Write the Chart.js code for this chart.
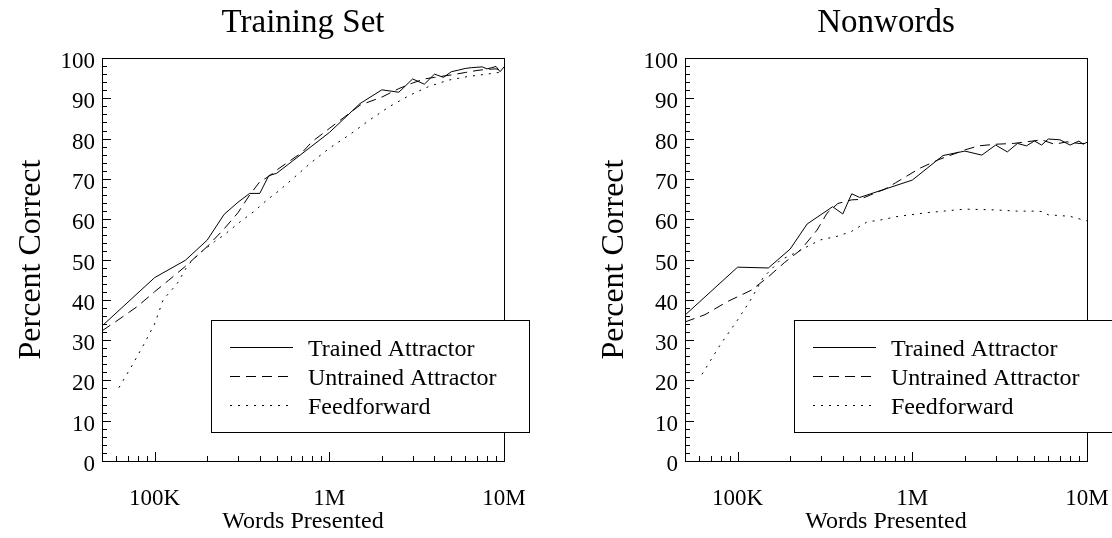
<!DOCTYPE html>
<html>
<head>
<meta charset="utf-8">
<script src="https://cdn.jsdelivr.net/npm/chart.js@4.4.1/dist/chart.umd.min.js"></script>
<style>
  html, body { margin: 0; padding: 0; background: #fff; }
  #wrap { position: relative; width: 1112px; height: 538px; }
  canvas { position: absolute; top: 0; }
</style>
</head>
<body>
<div id="wrap">
  <canvas id="cTrain" width="556" height="538" style="left:0"></canvas>
  <canvas id="cNon" width="556" height="538" style="left:556px"></canvas>
</div>
<script>
// Training Set panel
const trainTrainedWords = [5e4, 1e5, 1.5e5, 2e5, 2.5e5, 3e5, 3.5e5, 4e5, 4.5e5, 5e5, 1e6, 1.5e6, 2e6, 2.5e6, 3e6, 3.5e6, 4e6, 4.5e6, 5e6, 5.5e6, 6e6, 6.5e6, 7e6, 7.5e6, 8e6, 8.5e6, 9e6, 9.5e6, 1e7];
const trainTrainedPct = [33.5, 45.5, 49.8, 54.8, 61.2, 64.2, 66.4, 66.4, 70.8, 71.4, 81.5, 88.7, 92.1, 91.5, 94.8, 93.5, 96.0, 95.2, 96.6, 97.0, 97.4, 97.6, 97.7, 97.8, 97.3, 97.6, 97.9, 96.6, 97.8];
const trainUntrainedWords = [5e4, 6e4, 8e4, 1e5, 1.2e5, 1.5e5, 2e5, 2.5e5, 3e5, 3.5e5, 4e5, 4.5e5, 5e5, 7e5, 8e5, 1e6, 1.5e6, 2e6, 2.5e6, 3e6, 3.5e6, 4e6, 5e6, 6e6, 7e6, 8e6, 9e6, 9.5e6, 1e7];
const trainUntrainedPct = [32.3, 34.6, 38.4, 42.0, 44.8, 48.3, 53.2, 57.6, 61.6, 66.0, 69.3, 70.6, 72.2, 76.6, 79.3, 82.5, 88.3, 90.3, 92.4, 93.8, 94.8, 95.2, 95.8, 96.4, 96.9, 97.2, 97.3, 97.0, 97.4];
const trainFeedWords = [6.25e4, 7.5e4, 8.75e4, 1e5, 1.12e5, 1.35e5, 1.55e5, 1.8e5, 2.2e5, 2.5e5, 3.1e5, 3.7e5, 4.4e5, 5.2e5, 6.2e5, 7.8e5, 1e6, 1.3e6, 1.7e6, 2.2e6, 2.9e6, 3.7e6, 4.8e6, 6.2e6, 8e6, 1e7];
const trainFeedPct = [18.2, 24.0, 29.2, 34.0, 40.0, 44.1, 48.6, 51.5, 54.4, 56.1, 59.4, 61.9, 64.8, 67.2, 70.1, 73.9, 77.6, 80.9, 84.6, 87.9, 90.8, 92.9, 94.5, 95.4, 96.0, 96.6];

// Nonwords panel
const nonTrainedWords = [5e4, 1e5, 1.5e5, 2e5, 2.5e5, 3.5e5, 4e5, 4.5e5, 5e5, 1e6, 1.5e6, 2e6, 2.5e6, 3e6, 3.5e6, 4e6, 4.5e6, 5e6, 5.5e6, 6e6, 7e6, 8e6, 9e6, 9.5e6, 1e7];
const nonTrainedPct = [36.2, 48.1, 47.9, 52.6, 58.8, 63.1, 61.3, 66.3, 65.4, 69.7, 75.8, 76.9, 75.9, 78.4, 76.7, 78.8, 78.2, 79.4, 78.4, 79.9, 79.7, 78.4, 79.4, 78.6, 79.1];
const nonUntrainedWords = [5e4, 6.5e4, 8.7e4, 1.2e5, 1.5e5, 1.85e5, 2.3e5, 2.85e5, 3.25e5, 3.75e5, 4.5e5, 5e5, 5.75e5, 7e5, 8e5, 1.1e6, 1.4e6, 2e6, 2.4e6, 3e6, 3.8e6, 4.5e6, 5.5e6, 6.5e6, 7.7e6, 9e6, 1e7];
const nonUntrainedPct = [34.5, 36.3, 39.5, 42.4, 45.7, 49.2, 52.4, 57.3, 61.5, 63.9, 64.8, 64.9, 66.0, 67.5, 69.0, 72.6, 74.7, 77.2, 78.2, 78.6, 78.8, 79.2, 79.7, 78.6, 79.2, 78.8, 78.8];
const nonFeedWords = [6.25e4, 8e4, 1e5, 1.2e5, 1.4e5, 1.75e5, 2.2e5, 2.6e5, 3e5, 3.75e5, 4.5e5, 5.5e5, 7e5, 8e5, 1.2e6, 2e6, 3e6, 4e6, 5e6, 5.5e6, 6e6, 7e6, 8e6, 9e6, 1e7];
const nonFeedPct = [21.5, 29.0, 35.0, 40.3, 45.5, 49.8, 51.9, 53.6, 54.9, 55.8, 57.0, 59.3, 60.0, 60.6, 61.6, 62.5, 62.3, 62.0, 62.0, 61.9, 61.1, 60.9, 60.7, 60.1, 59.6];

const seriesNames = ['Trained Attractor', 'Untrained Attractor', 'Feedforward'];
const seriesDash = [[], [10, 6], [2, 6]];
const xLabelValues = [1e5, 1e6, 1e7];
const xTickLabels = ['100K', '1M', '10M'];
const yLabelStep = 10;

const SERIF = '"Liberation Serif", "Times New Roman", serif';

// minor ticks at 1..9 x each decade inside the axis range
function logTicks(min, max) {
  const out = [];
  for (let e = 4; e <= 7; e++) {
    for (let s = 1; s <= 9; s++) {
      const v = s * Math.pow(10, e);
      if (v >= min && v <= max) out.push({ value: v });
    }
  }
  return out;
}

function pts(words, pct) {
  return words.map((w, i) => ({ x: w, y: pct[i] }));
}

const framePlugin = {
  id: 'frame',
  afterDraw(chart, args, opts) {
    const { ctx, chartArea: a } = chart;
    const xs = chart.scales.x, ys = chart.scales.y;
    ctx.save();
    ctx.strokeStyle = '#000';
    ctx.lineWidth = 1;
    ctx.setLineDash([]);
    ctx.strokeRect(Math.round(a.left) + 0.5, Math.round(a.top) + 0.5, Math.round(a.right - a.left), Math.round(a.bottom - a.top));

    // inward tick marks
    ctx.beginPath();
    ys.ticks.forEach(t => {
      const py = Math.round(ys.getPixelForValue(t.value)) + 0.5;
      const len = t.value % yLabelStep === 0 ? 9 : 5;
      ctx.moveTo(a.left, py);
      ctx.lineTo(a.left + len, py);
    });
    xs.ticks.forEach(t => {
      const px = Math.round(xs.getPixelForValue(t.value)) + 0.5;
      const len = xLabelValues.includes(t.value) ? 9 : 5;
      ctx.moveTo(px, a.bottom);
      ctx.lineTo(px, a.bottom - len);
    });
    ctx.stroke();

    ctx.fillStyle = '#000';
    ctx.textAlign = 'center';
    ctx.textBaseline = 'middle';
    const cx = (a.left + a.right) / 2;
    ctx.font = '33px ' + SERIF;
    ctx.fillText(opts.title, cx, 23);
    ctx.font = '24px ' + SERIF;
    ctx.fillText('Words Presented', cx, 522);
    ctx.save();
    ctx.translate(a.left - 70, (a.top + a.bottom) / 2);
    ctx.rotate(-Math.PI / 2);
    ctx.font = '32px ' + SERIF;
    ctx.fillText('Percent Correct', 0, 0);
    ctx.restore();

    // legend box
    const bx = a.left + 109, by = 320, bw = 318, bh = 112;
    ctx.fillStyle = '#fff';
    ctx.fillRect(bx, by, bw, bh);
    ctx.strokeStyle = '#000';
    ctx.strokeRect(bx + 0.5, by + 0.5, bw, bh);
    ctx.font = '24px ' + SERIF;
    ctx.textAlign = 'left';
    seriesNames.forEach((name, i) => {
      const ly = by + 27 + i * 29;
      ctx.setLineDash(seriesDash[i]);
      ctx.beginPath();
      ctx.moveTo(bx + 19, ly + 0.5);
      ctx.lineTo(bx + 82, ly + 0.5);
      ctx.stroke();
      ctx.setLineDash([]);
      ctx.fillStyle = '#000';
      ctx.fillText(name, bx + 97, ly + 3);
    });
    ctx.restore();
  }
};

function makeChart(id, title, yWidth, rightPad, sets) {
  const datasets = sets.map((d, i) => ({
    label: seriesNames[i],
    data: pts(d[0], d[1]),
    borderColor: '#000',
    borderWidth: 1,
    borderDash: seriesDash[i],
    pointRadius: 0,
    tension: 0,
    fill: false
  }));
  new Chart(document.getElementById(id), {
    type: 'line',
    data: { datasets },
    plugins: [framePlugin],
    options: {
      responsive: false,
      animation: false,
      layout: { padding: { top: 58, right: rightPad, left: 0, bottom: 0 } },
      plugins: {
        legend: { display: false },
        tooltip: { enabled: false },
        frame: { title }
      },
      scales: {
        x: {
          type: 'logarithmic',
          min: 5e4,
          max: 1e7,
          afterBuildTicks: s => { s.ticks = logTicks(5e4, 1e7); },
          afterFit: s => { s.height = 77; s.paddingLeft = 0; s.paddingRight = 0; },
          grid: { display: false, drawTicks: false },
          border: { display: false },
          ticks: {
            autoSkip: false,
            maxRotation: 0,
            padding: 24,
            color: '#000',
            font: { family: SERIF, size: 23 },
            callback: v => {
              const k = xLabelValues.indexOf(v);
              return k >= 0 ? xTickLabels[k] : '';
            }
          }
        },
        y: {
          min: 0,
          max: 100,
          afterFit: s => { s.width = yWidth; s.paddingTop = 0; s.paddingBottom = 0; },
          grid: { display: false, drawTicks: false },
          border: { display: false },
          ticks: {
            stepSize: 2,
            autoSkip: false,
            padding: 7,
            labelOffset: 4,
            color: '#000',
            font: { family: SERIF, size: 23 },
            callback: v => (v % yLabelStep === 0 ? String(v) : '')
          }
        }
      }
    }
  });
}

makeChart('cTrain', 'Training Set', 102, 52, [
  [trainTrainedWords, trainTrainedPct],
  [trainUntrainedWords, trainUntrainedPct],
  [trainFeedWords, trainFeedPct]
]);
makeChart('cNon', 'Nonwords', 129, 25, [
  [nonTrainedWords, nonTrainedPct],
  [nonUntrainedWords, nonUntrainedPct],
  [nonFeedWords, nonFeedPct]
]);
</script>
</body>
</html>
